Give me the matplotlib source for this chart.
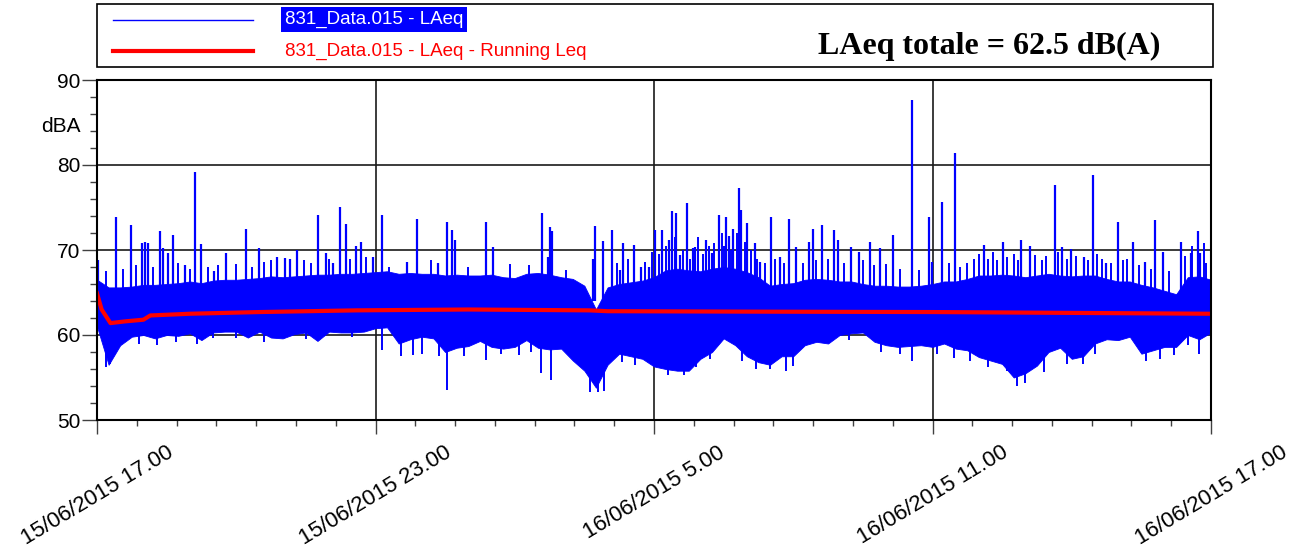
import numpy as np
import matplotlib
matplotlib.use("Agg")
import matplotlib.pyplot as plt
from matplotlib.lines import Line2D
from matplotlib.ticker import MultipleLocator
from matplotlib.transforms import ScaledTranslation

# ---------------- data (hours after 15/06/2015 17.00, dB(A)) ----------------
x_tick_labels = ["15/06/2015 17.00", "15/06/2015 23.00", "16/06/2015 5.00",
                 "16/06/2015 11.00", "16/06/2015 17.00"]
x_tick_hours = [0, 6, 12, 18, 24]

# dense part of the LAeq trace, sampled every 15 minutes
band_low = [61.0, 56.5, 58.8, 59.8, 60.0, 59.6, 60.0, 59.9, 60.2, 59.4, 60.3, 60.4,
            60.4, 59.7, 60.4, 59.7, 59.6, 60.1, 60.3, 59.3, 60.4, 60.3, 60.3, 60.4,
            60.8, 60.9, 59.0, 59.5, 59.8, 59.6, 58.0, 58.5, 58.7, 59.3, 58.6, 58.4,
            58.6, 59.4, 58.5, 58.3, 58.4, 57.0, 55.8, 53.8, 56.5, 57.8, 57.5, 57.2,
            56.3, 56.0, 55.8, 55.8, 57.2, 58.0, 59.6, 58.8, 57.5, 56.8, 56.5, 57.5,
            57.5, 58.8, 59.2, 59.0, 60.0, 60.2, 60.3, 59.2, 58.8, 58.6, 58.7, 58.8,
            58.6, 59.0, 58.4, 58.2, 57.4, 57.0, 56.6, 55.0, 55.5, 56.4, 58.0, 58.5,
            57.2, 57.5, 59.0, 59.5, 59.4, 59.8, 57.8, 58.2, 58.6, 58.6, 60.0, 59.5,
            60.3]
band_high = [66.5, 65.6, 65.6, 65.7, 65.9, 65.9, 66.0, 66.1, 66.3, 66.1, 66.4, 66.5,
             66.5, 66.6, 66.7, 66.9, 66.8, 66.9, 67.0, 67.1, 67.1, 67.2, 67.2, 67.3,
             67.4, 67.5, 67.2, 67.3, 67.2, 67.2, 67.0, 67.1, 67.0, 67.0, 67.1, 66.8,
             66.7, 67.2, 67.3, 67.1, 66.8, 66.6, 65.8, 63.0, 65.6, 66.0, 66.2, 66.4,
             66.8, 67.6, 67.8, 67.6, 67.5, 67.8, 68.0, 67.8, 67.4, 66.8, 65.8, 66.0,
             66.1, 66.5, 66.6, 66.5, 66.3, 66.3, 66.0, 65.8, 65.8, 65.7, 65.7, 65.8,
             66.0, 66.3, 66.3, 66.6, 67.0, 67.0, 67.1, 67.0, 66.8, 67.0, 67.2, 67.0,
             66.9, 67.0, 67.0, 66.6, 66.3, 66.3, 65.9, 65.6, 65.2, 64.8, 66.8, 66.9,
             66.5]
band_hours = np.arange(len(band_low)) * 0.25

# isolated peaks of the LAeq trace
peak_hours = [0.02, 0.42, 0.73, 0.97, 1.03, 1.09, 1.35, 1.42, 1.54, 1.64, 1.90, 2.12,
              2.24, 2.51, 2.77, 3.20, 3.48, 3.88, 4.06, 4.15, 4.31, 4.76, 4.94, 5.09,
              5.23, 5.37, 5.59, 5.69, 5.95, 6.15, 6.67, 6.90, 7.35, 7.55, 7.64, 7.71,
              8.39, 8.54, 9.59, 9.71, 9.76, 9.81, 10.68, 10.73, 10.90, 11.10, 11.26,
              11.34, 11.57, 11.71, 11.90, 12.03, 12.18, 12.33, 12.38, 12.47, 12.56,
              12.72, 12.84, 12.89, 13.11, 13.24, 13.40, 13.55, 13.62, 13.71, 13.83,
              13.88, 14.01, 14.17, 14.28, 14.51, 14.71, 14.91, 15.07, 15.33, 15.43,
              15.61, 15.87, 15.97, 16.25, 16.41, 16.65, 16.86, 17.14, 17.55, 17.93,
              17.98, 18.20, 18.49, 19.10, 19.51, 19.91, 20.10, 20.64, 20.80, 20.98,
              21.26, 21.45, 21.73, 21.99, 22.33, 22.58, 22.79, 22.97, 23.35, 23.57,
              23.73, 23.77]
peak_values = [68.8, 73.9, 72.9, 70.8, 70.9, 70.8, 72.2, 70.2, 69.6, 71.8, 68.2, 79.2,
               70.7, 67.5, 69.7, 72.5, 70.2, 69.2, 69.1, 68.9, 70.0, 74.1, 69.6, 68.5,
               75.1, 73.1, 70.5, 70.9, 69.2, 74.1, 68.6, 73.7, 68.5, 73.3, 72.4, 71.2,
               73.3, 70.4, 74.3, 69.2, 72.7, 72.2, 69.0, 72.8, 71.1, 72.4, 67.6,
               70.8, 70.6, 68.0, 68.0, 72.3, 72.4, 71.2, 74.6, 74.3, 69.4,
               75.5, 70.2, 70.4, 71.2, 69.6, 74.1, 73.9, 71.6, 72.5, 77.3,
               74.7, 73.2, 70.8, 68.6, 73.9, 69.2, 73.6, 70.4, 71.0, 72.5,
               72.9, 72.4, 71.2, 70.4, 69.8, 70.9, 70.2, 71.8, 87.6, 73.9,
               68.6, 75.7, 81.4, 70.6, 70.9, 71.2, 70.5, 77.7, 70.3, 70.1,
               69.2, 78.8, 68.5, 73.3, 71.0, 68.6, 73.5, 69.8, 71.0, 69.6,
               72.2, 69.6]

# smaller bursts along the upper edge of the trace
burst_hours = [0.20, 0.55, 0.85, 1.20, 1.75, 2.00, 2.40, 2.60, 3.00, 3.35, 3.60, 3.75,
               4.45, 4.60, 5.00, 5.45, 5.80, 6.30, 7.20, 8.00, 8.90, 9.30, 10.10,
               11.20, 11.45, 11.80, 11.95, 12.10, 12.25, 12.45, 12.62, 12.78, 12.95,
               13.05, 13.18, 13.30, 13.47, 13.50, 13.66, 13.78, 13.95, 14.08, 14.22,
               14.40, 14.60, 14.80, 15.20, 15.50, 15.75, 16.10, 16.50, 16.75, 17.00,
               17.30, 17.70, 18.35, 18.60, 18.75, 18.90, 19.00, 19.20, 19.30, 19.40,
               19.60, 19.75, 19.85, 20.20, 20.35, 20.45, 20.70, 20.90, 21.10, 21.35,
               21.55, 21.65, 21.85, 22.10, 22.20, 22.45, 22.70, 23.10, 23.45, 23.60,
               23.85, 23.90]
burst_values = [67.5, 67.8, 68.2, 68.0, 68.5, 67.8, 68.0, 68.2, 68.3, 68.0, 68.6, 68.8,
                68.8, 68.5, 68.9, 69.0, 69.2, 68.0, 68.8, 68.0, 68.3, 68.2, 67.6,
                68.5, 69.0, 68.6, 69.8, 69.5, 70.5, 71.5, 70.0, 69.0, 71.5,
                69.5, 70.5, 70.8, 72.0, 70.5, 70.0, 72.0, 71.0, 70.0, 69.0,
                68.5, 69.0, 68.5, 68.5, 68.8, 69.0, 68.5, 68.8, 68.2, 68.4,
                67.8, 67.6, 68.5, 68.0, 68.5, 69.0, 69.5, 69.0, 69.8, 68.8,
                69.2, 69.5, 68.8, 69.4, 68.8, 69.3, 69.8, 68.9, 69.3, 68.8,
                69.5, 69.0, 68.5, 68.8, 69.0, 68.2, 67.8, 67.5, 69.3, 70.5,
                70.8, 68.5]

# isolated dips of the LAeq trace
dip_hours = [0.20, 0.28, 0.90, 1.30, 1.70, 2.15, 2.50, 3.00, 3.60, 4.50, 5.50, 6.15,
             6.56, 6.80, 7.00, 7.37, 7.53, 7.90, 8.39, 8.70, 9.10, 9.35, 9.57, 9.78,
             10.62, 10.80, 10.92, 11.30, 11.60, 12.30, 12.65, 12.90, 13.20, 13.90,
             14.20, 14.50, 14.85, 15.00, 16.20, 16.90, 17.30, 17.55, 18.10, 18.46,
             18.80, 19.20, 19.60, 19.82, 20.00, 20.40, 20.90, 21.24, 21.50, 22.60,
             22.90, 23.20, 23.50, 23.74]
dip_values = [56.2, 56.6, 59.0, 58.8, 59.2, 59.0, 59.6, 59.6, 59.2, 59.5, 59.8, 58.2,
              57.5, 57.6, 57.8, 57.5, 53.5, 57.5, 57.1, 57.8, 57.6, 58.0, 55.5, 54.7,
              53.3, 53.3, 53.4, 56.8, 56.5, 55.3, 55.3, 56.2, 57.2, 57.0,
              56.0, 56.0, 55.8, 56.3, 59.4, 58.0, 57.8, 56.9, 57.8, 57.3,
              57.0, 56.2, 55.8, 54.0, 54.3, 55.6, 56.6, 56.6, 57.8, 57.0,
              57.2, 57.6, 58.8, 57.8]

# running Leq
running_hours = [0, 0.1, 0.29, 0.6, 1.0, 1.15, 2.0, 3.5, 5.6, 8.0, 10.6, 11.0, 14.0,
                 18.0, 21.0, 24.0]
running_values = [64.9, 63.0, 61.4, 61.6, 61.8, 62.3, 62.5, 62.7, 62.9, 63.0, 62.9,
                  62.8, 62.75, 62.7, 62.6, 62.5]

series_names = ["831_Data.015 - LAeq", "831_Data.015 - LAeq - Running Leq"]
total_text = "LAeq totale = 62.5 dB(A)"

# ---------------- figure ----------------
W, H = 1289, 547
fig = plt.figure(figsize=(W / 100, H / 100), dpi=100)
fig.patch.set_facecolor("white")

def fx(px):
    return px / W

def fy(py):
    return 1 - py / H

ax = fig.add_axes([fx(97), fy(420), fx(1211) - fx(97), fy(80) - fy(420)])

blue = "#0000FF"
red = "#FF0000"

ax.fill_between(band_hours, band_low, band_high, color=blue, lw=0.6, zorder=3)
ax.vlines(burst_hours, 64, burst_values, color=blue, lw=1.4, zorder=3)
ax.vlines(peak_hours, 64, peak_values, color=blue, lw=1.6, zorder=3)
ax.vlines(dip_hours, 61, dip_values, color=blue, lw=1.4, zorder=3)
ax.plot(running_hours, running_values, color=red, lw=3.0, zorder=4,
        solid_joinstyle="round")

ax.set_xlim(0, 24)
ax.set_ylim(50, 90)
ax.set_xticks(x_tick_hours)
ax.set_xticklabels(x_tick_labels, rotation=31, ha="center",
                   fontsize=16, family=["Liberation Sans", "DejaVu Sans"])
shift = ScaledTranslation(-0.08, 0, fig.dpi_scale_trans)
for lab in ax.get_xticklabels():
    lab.set_transform(lab.get_transform() + shift)
ax.xaxis.set_minor_locator(MultipleLocator(6 / 7))
ax.set_yticks([50, 60, 70, 80, 90])
ax.set_yticklabels(["50", "60", "70", "80", "90"], fontsize=15,
                   family=["Liberation Sans", "DejaVu Sans"])
ax.yaxis.set_minor_locator(MultipleLocator(2))

ax.tick_params(axis="y", which="major", length=11, width=1.0, pad=1, direction="out",
               color="#404040")
ax.tick_params(axis="y", which="minor", length=5, width=1.0, direction="out",
               color="#404040")
ax.tick_params(axis="x", which="major", length=10, width=1.0, pad=6, direction="out",
               color="#404040")
ax.tick_params(axis="x", which="minor", length=4.5, width=1.0, direction="out",
               color="#404040")

ax.grid(True, which="major", color="#1a1a1a", lw=1.2)
ax.set_axisbelow(True)
for s in ax.spines.values():
    s.set_color("black")
    s.set_linewidth(1.5)
    s.set_zorder(5)

fig.text(fx(61), fy(127), "dBA", ha="center", va="center", fontsize=15,
         family=["Liberation Sans", "DejaVu Sans"])

# ---------------- legend box ----------------
box = plt.Rectangle((fx(97), fy(67)), fx(1213) - fx(97), fy(4) - fy(67),
                    transform=fig.transFigure, fc="white", ec="black", lw=1.2)
fig.add_artist(box)
fig.add_artist(Line2D([fx(113), fx(253)], [fy(20), fy(20)], color=blue, lw=1.0,
                      transform=fig.transFigure))
fig.add_artist(Line2D([fx(113), fx(253)], [fy(51), fy(51)], color=red, lw=3.0,
                      transform=fig.transFigure))
fig.text(fx(285), fy(24), series_names[0], ha="left", va="baseline", fontsize=13.5,
         color="white", family=["Liberation Sans", "DejaVu Sans"],
         bbox=dict(boxstyle="square,pad=0.2", fc=blue, ec="none"))
fig.text(fx(285), fy(56), series_names[1], ha="left", va="baseline", fontsize=13.5,
         color=red, family=["Liberation Sans", "DejaVu Sans"])
fig.text(fx(818), fy(54), total_text, ha="left", va="baseline", fontsize=23,
         fontweight="bold", color="black",
         family=["Liberation Serif", "DejaVu Serif"])

fig.savefig("out.png", dpi=100, facecolor="white")
